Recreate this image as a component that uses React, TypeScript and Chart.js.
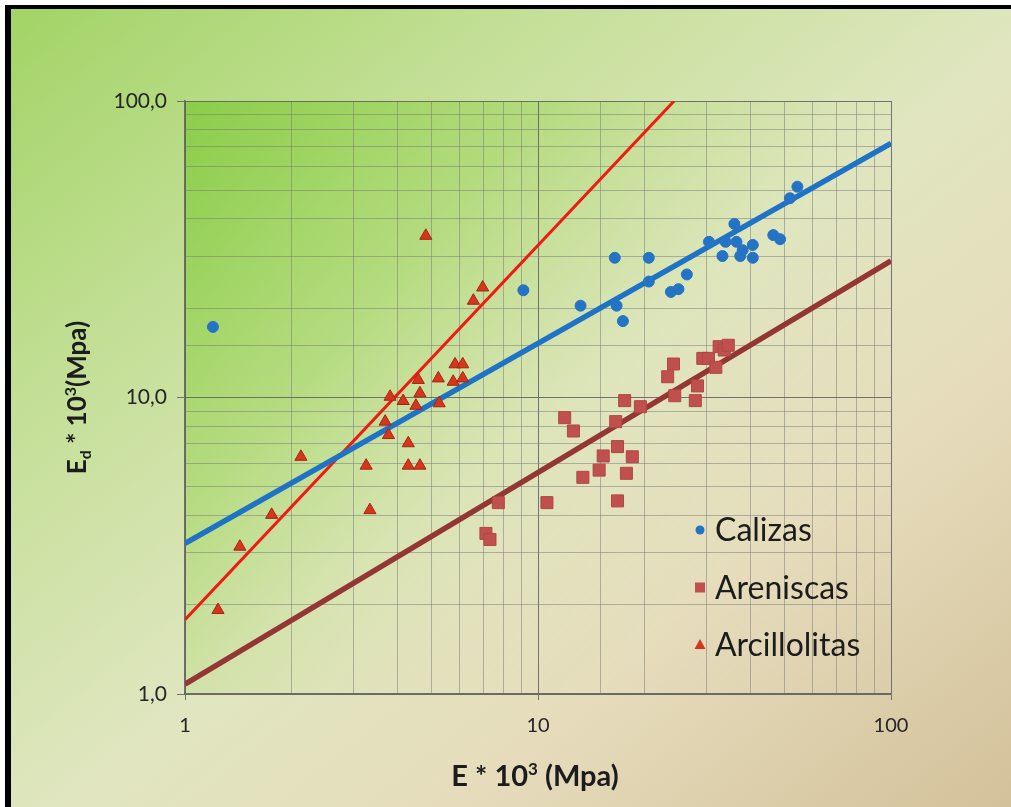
import { useEffect, useRef } from "react";
import { Chart, registerables } from "chart.js";

Chart.register(...registerables);

// Calizas: E * 10^3 (MPa) vs Ed * 10^3 (MPa)
const calizasE = [1.2, 9.09, 13.2, 16.5, 16.7, 17.4, 20.6, 20.6, 23.8, 25.0, 26.4, 30.5, 33.3, 34.0, 36.0, 36.5, 37.4, 38.0, 40.6, 40.6, 46.4, 48.5, 51.7, 54.3];
const calizasEd = [17.3, 23.0, 20.4, 29.6, 20.4, 18.1, 29.6, 24.6, 22.7, 23.2, 26.0, 33.5, 30.0, 33.5, 38.5, 33.5, 30.0, 31.4, 32.7, 29.6, 35.3, 34.2, 47.0, 51.4];

// Areniscas
const areniscasE = [7.12, 7.31, 7.72, 10.6, 11.9, 12.6, 13.4, 14.9, 15.3, 16.6, 16.8, 16.8, 17.6, 17.8, 18.5, 19.5, 23.3, 24.2, 24.4, 27.9, 28.3, 29.3, 30.4, 31.9, 32.6, 33.7, 34.6];
const areniscasEd = [3.48, 3.32, 4.42, 4.42, 8.55, 7.71, 5.38, 5.69, 6.35, 8.29, 6.83, 4.48, 9.76, 5.55, 6.31, 9.31, 11.75, 12.97, 10.14, 9.76, 10.94, 13.55, 13.55, 12.64, 14.84, 14.46, 15.0];

// Arcillolitas
const arcillolitasE = [1.24, 1.43, 1.76, 2.13, 3.26, 3.34, 3.69, 3.77, 3.81, 4.15, 4.29, 4.29, 4.51, 4.58, 4.63, 4.63, 4.81, 5.22, 5.25, 5.75, 5.82, 6.12, 6.12, 6.56, 6.97];
const arcillolitasEd = [1.92, 3.14, 4.02, 6.31, 5.89, 4.17, 8.29, 7.47, 10.06, 9.73, 7.01, 5.89, 9.38, 11.46, 10.33, 5.89, 35.1, 11.6, 9.56, 11.3, 12.94, 12.94, 11.6, 21.2, 23.5];

// Power trend lines (end points on the log-log grid)
const calizasTrendE = [1, 100];
const calizasTrendEd = [3.22, 72];
const arcillolitasTrendE = [1, 24.3];
const arcillolitasTrendEd = [1.78, 100];
const areniscasTrendE = [1, 100];
const areniscasTrendEd = [1.08, 28.9];

// Axis limits and labelled ticks
const axisMin = 1;
const axisMax = 100;
const majorTicks = [1, 10, 100];

const legendNames = ["Calizas", "Areniscas", "Arcillolitas"];

const FONT = "Lato, 'Open Sans', sans-serif";

const pts = (xs: number[], ys: number[]) => xs.map((x, i) => ({ x, y: ys[i] }));
const isMajor = (v: number) => majorTicks.some((m) => Math.abs(v - m) < 1e-9);

type Part = { text: string; size: number; dy: number };

function drawRich(ctx: CanvasRenderingContext2D, parts: Part[], cx: number, baseline: number) {
  let total = 0;
  const widths = parts.map((p) => {
    ctx.font = `bold ${p.size}px ${FONT}`;
    const w = ctx.measureText(p.text).width;
    total += w;
    return w;
  });
  let x = cx - total / 2;
  ctx.textAlign = "left";
  ctx.textBaseline = "alphabetic";
  parts.forEach((p, i) => {
    ctx.font = `bold ${p.size}px ${FONT}`;
    ctx.fillText(p.text, x, baseline + p.dy);
    x += widths[i];
  });
}

const decorPlugin = {
  id: "decor",
  beforeDraw(chart: any) {
    const { ctx, chartArea: a } = chart;
    ctx.save();
    const g = ctx.createLinearGradient(a.left, a.top, a.right, a.bottom);
    g.addColorStop(0, "rgba(136,204,70,0.95)");
    g.addColorStop(0.3, "rgba(160,214,96,0.55)");
    g.addColorStop(0.6, "rgba(225,230,185,0.15)");
    g.addColorStop(1, "rgba(235,225,195,0)");
    ctx.fillStyle = g;
    ctx.fillRect(a.left, a.top, a.right - a.left, a.bottom - a.top);
    ctx.restore();
  },
  afterDraw(chart: any) {
    const { ctx, chartArea: a } = chart;
    ctx.save();
    ctx.fillStyle = "#1c1c1c";

    // x axis title
    drawRich(
      ctx,
      [
        { text: "E * 10", size: 29, dy: 0 },
        { text: "3", size: 17, dy: -11 },
        { text: " (Mpa)", size: 29, dy: 0 },
      ],
      (a.left + a.right) / 2 - 3,
      786
    );

    // y axis title
    ctx.save();
    ctx.translate(86, (a.top + a.bottom) / 2);
    ctx.rotate(-Math.PI / 2);
    drawRich(
      ctx,
      [
        { text: "E", size: 26, dy: 0 },
        { text: "d", size: 16, dy: 5 },
        { text: " * 10", size: 26, dy: 0 },
        { text: "3", size: 16, dy: -10 },
        { text: "(Mpa)", size: 26, dy: 0 },
      ],
      0,
      0
    );
    ctx.restore();

    // legend inside the plot area
    const lx = a.right - 191;
    const ly0 = a.bottom - 164;
    const step = 57.5;
    chart.data.datasets.slice(0, 3).forEach((ds: any, i: number) => {
      const y = ly0 + i * step;
      ctx.fillStyle = ds.pointBackgroundColor;
      ctx.beginPath();
      if (i === 0) {
        ctx.arc(lx, y, 4.5, 0, Math.PI * 2);
      } else if (i === 1) {
        ctx.rect(lx - 5, y - 5, 10, 10);
      } else {
        ctx.moveTo(lx, y - 6);
        ctx.lineTo(lx + 5.5, y + 4);
        ctx.lineTo(lx - 5.5, y + 4);
        ctx.closePath();
      }
      ctx.fill();
      ctx.fillStyle = "#1c1c1c";
      ctx.font = `32px ${FONT}`;
      ctx.textAlign = "left";
      ctx.textBaseline = "middle";
      ctx.fillText(ds.label, lx + 15, y + 1);
    });
    ctx.restore();
  },
};

export default function App() {
  const canvasRef = useRef<HTMLCanvasElement | null>(null);

  useEffect(() => {
    document.body.style.margin = "0";
    const canvas = canvasRef.current;
    if (!canvas) return;

    const gridColor = (c: any) =>
      c.tick && isMajor(c.tick.value) ? "rgba(95,95,95,0.85)" : "rgba(120,120,120,0.5)";
    const tickColor = (c: any) =>
      c.tick && isMajor(c.tick.value) ? "rgba(95,95,95,0.85)" : "rgba(0,0,0,0)";

    const chart = new Chart(canvas, {
      type: "scatter",
      data: {
        datasets: [
          {
            label: legendNames[0],
            data: pts(calizasE, calizasEd),
            pointStyle: "circle",
            pointRadius: 5.5,
            pointBackgroundColor: "#2473c4",
            pointBorderColor: "#2473c4",
            pointBorderWidth: 1,
            order: 1,
          },
          {
            label: legendNames[1],
            data: pts(areniscasE, areniscasEd),
            pointStyle: "rect",
            pointRadius: 8.5,
            pointBackgroundColor: "#c0504d",
            pointBorderColor: "#b04744",
            pointBorderWidth: 1,
            order: 1,
          },
          {
            label: legendNames[2],
            data: pts(arcillolitasE, arcillolitasEd),
            pointStyle: "triangle",
            pointRadius: 7,
            pointBackgroundColor: "#d8361c",
            pointBorderColor: "#a32512",
            pointBorderWidth: 1,
            order: 1,
          },
          {
            label: "Tendencia Calizas",
            data: pts(calizasTrendE, calizasTrendEd),
            showLine: true,
            pointRadius: 0,
            borderColor: "#1f73c6",
            borderWidth: 5.5,
            order: 2,
          },
          {
            label: "Tendencia Arcillolitas",
            data: pts(arcillolitasTrendE, arcillolitasTrendEd),
            showLine: true,
            pointRadius: 0,
            borderColor: "#ee1a14",
            borderWidth: 3,
            order: 2,
          },
          {
            label: "Tendencia Areniscas",
            data: pts(areniscasTrendE, areniscasTrendEd),
            showLine: true,
            pointRadius: 0,
            borderColor: "#943634",
            borderWidth: 5.5,
            order: 2,
          },
        ],
      },
      options: {
        responsive: false,
        animation: false,
        events: [],
        layout: { padding: { top: 101, right: 120, left: 0, bottom: 0 } },
        plugins: { legend: { display: false }, tooltip: { enabled: false } },
        scales: {
          x: {
            type: "logarithmic",
            min: axisMin,
            max: axisMax,
            afterFit: (s: any) => {
              s.height = 113;
            },
            border: { display: true, color: "rgba(95,95,95,0.9)", width: 1.5 },
            grid: { color: gridColor, tickColor, tickLength: 6, lineWidth: 1 },
            ticks: {
              autoSkip: false,
              maxRotation: 0,
              padding: 14,
              color: "#262626",
              font: { family: FONT, size: 20 },
              callback: (v: any) => (isMajor(Number(v)) ? String(Number(v)) : ""),
            },
          },
          y: {
            type: "logarithmic",
            min: axisMin,
            max: axisMax,
            afterFit: (s: any) => {
              s.width = 185;
            },
            border: { display: true, color: "rgba(95,95,95,0.9)", width: 1.5 },
            grid: { color: gridColor, tickColor, tickLength: 8, lineWidth: 1 },
            ticks: {
              autoSkip: false,
              padding: 10,
              color: "#262626",
              font: { family: FONT, size: 21 },
              callback: (v: any) =>
                isMajor(Number(v)) ? Number(v).toFixed(1).replace(".", ",") : "",
            },
          },
        },
      },
      plugins: [decorPlugin],
    });

    return () => chart.destroy();
  }, []);

  return (
    <div style={{ position: "absolute", left: 0, top: 0, width: 1011, height: 807, background: "#ffffff" }}>
      <div
        style={{
          position: "absolute",
          left: 5,
          top: 5,
          width: 1006,
          height: 802,
          boxSizing: "border-box",
          borderTop: "4px solid #000",
          borderLeft: "6px solid #000",
          background:
            "linear-gradient(to bottom right, #a2d466 0%, #c6e09a 28%, #e0e6c0 52%, #e6dcbc 72%, #d3c19a 100%)",
        }}
      />
      <canvas ref={canvasRef} width={1011} height={807} style={{ position: "absolute", left: 0, top: 0 }} />
    </div>
  );
}
